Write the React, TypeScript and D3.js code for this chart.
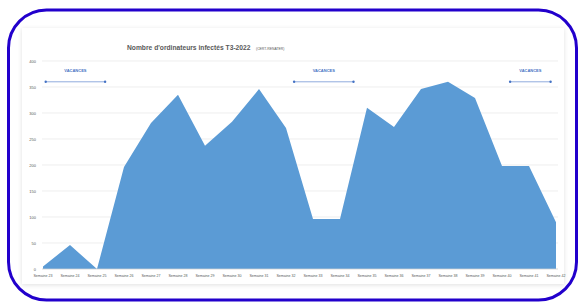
import React from 'react'
import * as d3 from 'd3'

const weeks = [
  'Semaine 23', 'Semaine 24', 'Semaine 25', 'Semaine 26', 'Semaine 27',
  'Semaine 28', 'Semaine 29', 'Semaine 30', 'Semaine 31', 'Semaine 32',
  'Semaine 33', 'Semaine 34', 'Semaine 35', 'Semaine 36', 'Semaine 37',
  'Semaine 38', 'Semaine 39', 'Semaine 40', 'Semaine 41', 'Semaine 42',
]
const infected = [5, 46, 0, 196, 281, 335, 237, 283, 346, 271, 96, 96, 310, 273, 346, 360, 329, 198, 198, 90]
const yTicks = [0, 50, 100, 150, 200, 250, 300, 350, 400]

// holiday spans, in week index units
const holidays = [
  { label: 'VACANCES', from: 0.1, to: 2.3 },
  { label: 'VACANCES', from: 9.3, to: 11.5 },
  { label: 'VACANCES', from: 17.3, to: 18.8 },
]

const W = 580
const H = 304

export default function App() {
  const x = d3.scaleLinear().domain([0, weeks.length - 1]).range([43, 556])
  const y = d3.scaleLinear().domain([0, 400]).range([269, 61])

  const area = d3
    .area<number>()
    .x((_, i) => x(i))
    .y0(y(0))
    .y1((d) => y(d))

  const font = "'Liberation Sans', Arial, sans-serif"

  return (
    <svg
      width={W}
      height={H}
      style={{ position: 'fixed', left: 0, top: 0, background: '#fff' }}
      fontFamily={font}
    >
      <defs>
        <filter id="sh" x="-5%" y="-5%" width="110%" height="110%">
          <feDropShadow dx="0" dy="1" stdDeviation="2" floodColor="#000" floodOpacity="0.12" />
        </filter>
      </defs>
      <rect x={22} y={28} width={542} height={256} fill="#fff" filter="url(#sh)" />

      <text x={127} y={50} fontSize={6.7} fontWeight="bold" fill="#595959">
        Nombre d'ordinateurs infectés T3-2022
      </text>
      <text x={256} y={50} fontSize={3.4} fill="#595959">
        (CERT-RENATER)
      </text>

      {yTicks.map((t) => (
        <g key={t}>
          <line x1={42} x2={558} y1={y(t)} y2={y(t)} stroke="#e6e6e6" strokeWidth={0.7} />
          <text x={36} y={y(t) + 1.5} textAnchor="end" fontSize={4} fill="#595959">
            {t}
          </text>
        </g>
      ))}

      <path d={area(infected) || ''} fill="#5b9bd5" />
      <line x1={42} x2={558} y1={y(0)} y2={y(0)} stroke="#d9d9d9" strokeWidth={0.7} />

      {weeks.map((w, i) => (
        <text key={w} x={x(i)} y={277} textAnchor="middle" fontSize={3.6} fill="#595959">
          {w}
        </text>
      ))}

      {holidays.map((h, i) => (
        <g key={i}>
          <text x={(x(h.from) + x(h.to)) / 2} y={y(379)} textAnchor="middle" fontSize={4} fontWeight="bold" fill="#4472c4">
            {h.label}
          </text>
          <line x1={x(h.from)} x2={x(h.to)} y1={y(360)} y2={y(360)} stroke="#4472c4" strokeWidth={0.6} />
          <circle cx={x(h.from)} cy={y(360)} r={1.2} fill="#4472c4" />
          <circle cx={x(h.to)} cy={y(360)} r={1.2} fill="#4472c4" />
        </g>
      ))}

      <rect x={8.5} y={10} width={568} height={290} rx={38} ry={38} fill="none" stroke="#2200cc" strokeWidth={3} />
    </svg>
  )
}
